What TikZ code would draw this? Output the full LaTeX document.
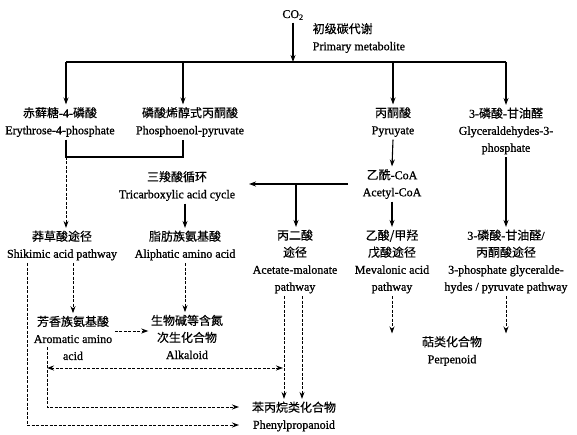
\documentclass[tikz,border=0pt]{standalone}
\usepackage{fontspec}
\setmainfont{Liberation Serif}[FakeBold=0.8]
\newfontfamily\cjk{Noto Sans CJK SC}[FakeBold=0.3]
\newcommand\zh[1]{{\cjk #1}}
\usetikzlibrary{arrows.meta}
\begin{document}
\begin{tikzpicture}[x=1pt,y=-1pt,
  lbl/.style={align=center, inner sep=2.5pt, font=\fontsize{12}{17}\selectfont},
  ln/.style={line width=1.1pt},
  tip/.style={},
  arr/.style={line width=1.1pt, -{Stealth[length=7pt,width=5pt]}},
  dln/.style={line width=1pt, dash pattern=on 3pt off 1.5pt},
  darr/.style={dln, -{Stealth[length=7pt,width=5pt]}},
  ddarr/.style={dln, {Stealth[length=7pt,width=5pt]}-{Stealth[length=7pt,width=5pt]}}]
\useasboundingbox (0,0) rectangle (577,435);

% ---- nodes ----
\node[lbl] (co2) at (293,15) {CO\textsubscript{2}};
\node[lbl, anchor=west, align=left] (prim) at (310,38) {\zh{初级碳代谢}\\Primary metabolite};
\node[lbl] (ery) at (60,122) {\zh{赤藓糖}-4-\zh{磷酸}\\Erythrose-4-phosphate};
\node[lbl] (pep) at (190,122) {\zh{磷酸烯醇式丙酮酸}\\Phosphoenol-pyruvate};
\node[lbl] (pyr) at (393,122) {\zh{丙酮酸}\\Pyruyate};
\node[lbl] (gly) at (506,131) {3-\zh{磷酸}-\zh{甘油醛}\\Glyceraldehydes-3-\\phosphate};
\node[lbl] (acetyl) at (392,184) {\zh{乙酰}-CoA\\Acetyl-CoA};
\node[lbl] (tca) at (177,186) {\zh{三羧酸循环}\\Tricarboxylic acid cycle};
\node[lbl] (shik) at (62,245.5) {\zh{莽草酸途径}\\Shikimic acid pathway};
\node[lbl] (aliph) at (185,245.5) {\zh{脂肪族氨基酸}\\Aliphatic amino acid};
\node[lbl] (mal) at (295,261.5) {\zh{丙二酸}\\\zh{途径}\\Acetate-malonate\\pathway};
\node[lbl] (mev) at (392,261.5) {\zh{乙酸/甲羟}\\\zh{戊酸途径}\\Mevalonic acid\\pathway};
\node[lbl] (gpp) at (506,261.5) {3-\zh{磷酸}-\zh{甘油醛}/\\\zh{丙酮酸途径}\\3-phosphate glyceralde-\\hydes / pyruvate pathway};
\node[lbl] (terp) at (452,351) {\zh{萜类化合物}\\Perpenoid};
\node[lbl] (arom) at (73,338) {\zh{芳香族氨基酸}\\Aromatic amino\\acid};
\node[lbl] (alk) at (187,337) {\zh{生物碱等含氮}\\\zh{次生化合物}\\Alkaloid};
\node[lbl] (phen) at (294,416.5) {\zh{苯丙烷类化合物}\\Phenylpropanoid};

% ---- coordinates ----
\coordinate (hl) at (66,62);
\coordinate (hr) at (506,62);
\coordinate (pb) at (183,62);
\coordinate (bl) at (66,157);
\coordinate (br) at (183,157);
\coordinate (acw) at (348,184);
\coordinate (ta) at (249,184);
\coordinate (mj) at (296,184);
\coordinate (xa) at (27,425);
\coordinate (pin2) at (239,425);
\coordinate (at) at (47,347);
\coordinate (ab) at (47,407);
\coordinate (pin1) at (239,407);
\coordinate (bdl) at (47,368);
\coordinate (bdr) at (283,368);

% ---- connectors ----
\draw[arr] (co2.south) -- (co2.south |- hl);
\draw[ln] (hl) -- (hr);
\draw[arr] (hl) -- (hl |- ery.north);
\draw[arr] (pb) -- (pb |- pep.north);
\draw[arr] (pyr.north |- hl) -- (pyr.north);
\draw[arr] (hr) -- (gly.north);

\draw[ln] (bl |- ery.south) -- (bl) -- (br) -- (br |- pep.south);
\draw[darr] (bl) -- (bl |- shik.north);

\draw[arr] (pyr.south) -- (acetyl.north);
\draw[arr] (acw) -- (ta);
\draw[arr] (mj) -- (mj |- mal.north);
\draw[arr] (tca.south -| aliph.north) -- (aliph.north);
\draw[arr] (acetyl.south) -- (mev.north);
\draw[arr] (gly.south) -- (gpp.north);

\draw[darr] (mev.south) -- (mev.south |- terp.north);
\draw[darr] (gpp.south) -- (gpp.south |- terp.north);

\draw[darr] (shik.south -| xa) -- (xa) -- (pin2);
\draw[darr] (arom.north |- shik.south) -- (arom.north);
\draw[darr] (aliph.south) -- (aliph.south |- alk.north);
\draw[darr] ([yshift=7pt]arom.east) -- ([yshift=7pt]arom.east -| alk.west);
\draw[darr] (at) -- (ab) -- (pin1);
\draw[ddarr] (bdl) -- (bdr);
\draw[darr] ([xshift=-11pt]mal.south) -- ([xshift=-11pt]mal.south |- phen.north);
\draw[darr] ([xshift=7pt]mal.south) -- ([xshift=7pt]mal.south |- phen.north);
\end{tikzpicture}
\end{document}
